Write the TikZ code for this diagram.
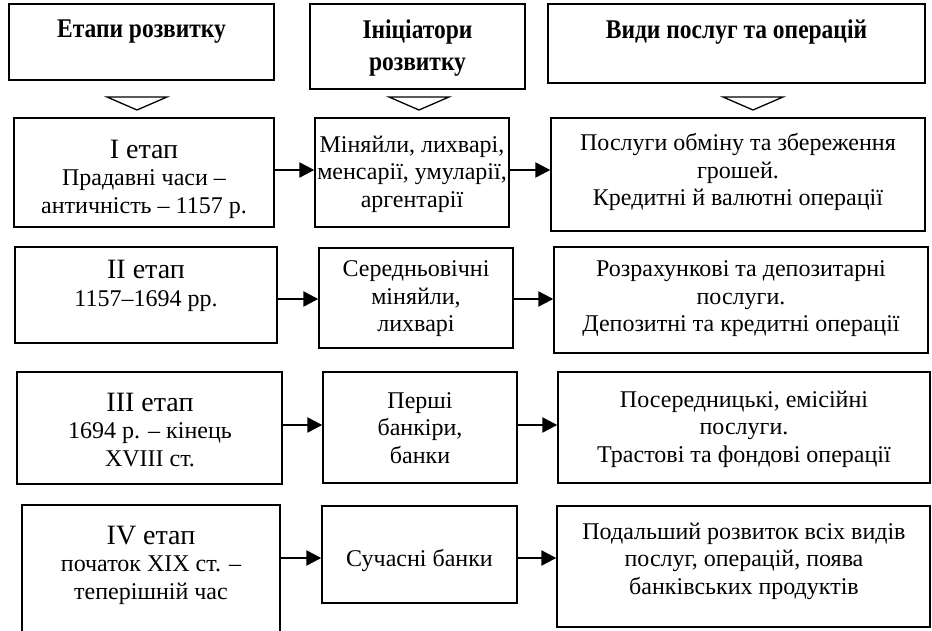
\documentclass[tikz,border=0pt]{standalone}
\usepackage{fontspec}
\setmainfont{Liberation Serif}
\usetikzlibrary{arrows.meta}
\begin{document}
\begin{tikzpicture}[x=1pt,y=-1pt,
  box/.style={draw, line width=1.4pt, inner sep=0pt},
  txt/.style={align=center, font=\fontsize{24}{27.5}\selectfont, inner sep=0pt},
  head/.style={align=center, font=\fontsize{27}{32}\selectfont\bfseries\addfontfeatures{FakeStretch=0.87}, inner sep=0pt},
  arr/.style={line width=2.4pt, -{Triangle[length=15pt,width=15pt]}},
  tri/.style={draw, line width=1.3pt, line join=miter}]
\clip (0,0) rectangle (932,631);

% column headers
\node[box, minimum width=265pt, minimum height=76pt] (h1) at (141.5,42) {};
\node[box, minimum width=215pt, minimum height=85pt] (h2) at (417.5,46.5) {};
\node[box, minimum width=377pt, minimum height=79pt] (h3) at (736.5,43.5) {};
\node[head] (th1) at (141.5,32) {Етапи розвитку};
\node[head] (th2) at (417.5,48) {Ініціатори\\розвитку};
\node[head] (th3) at (736.5,32) {Види послуг та операцій};

% open triangles under the headers
\draw[tri] (107,97) -- (167,97) -- (137,110) -- cycle;
\draw[tri] (389,97) -- (449,97) -- (419,110) -- cycle;
\draw[tri] (723,97) -- (783,97) -- (753,110) -- cycle;

% row 1
\node[box, minimum width=260pt, minimum height=109pt] (r1c1) at (144,172.5) {};
\node[box, minimum width=194pt, minimum height=109pt] (r1c2) at (412,172.5) {};
\node[box, minimum width=374pt, minimum height=113pt] (r1c3) at (738,174.5) {};
\node[txt] (t11) at (144,179) {{\fontsize{28}{30}\selectfont I етап}\\Прадавні часи –\\античність – 1157 р.};
\node[txt] (t12) at (412,174) {Міняйли, лихварі,\\менсарії, умуларії,\\аргентарії};
\node[txt] (t13) at (738,172) {Послуги обміну та збереження\\грошей.\\Кредитні й валютні операції};

% row 2
\node[box, minimum width=262pt, minimum height=96pt] (r2c1) at (146,295) {};
\node[box, minimum width=194pt, minimum height=100pt] (r2c2) at (416,298) {};
\node[box, minimum width=374pt, minimum height=106pt] (r2c3) at (741,300) {};
\node[txt] (t21) at (146,286) {{\fontsize{28}{30}\selectfont II етап}\\1157–1694 рр.};
\node[txt] (t22) at (416,299) {Середньовічні\\міняйли,\\лихварі};
\node[txt] (t23) at (741,299) {Розрахункові та депозитарні\\послуги.\\Депозитні та кредитні операції};

% row 3
\node[box, minimum width=265pt, minimum height=112pt] (r3c1) at (149.5,428) {};
\node[box, minimum width=194pt, minimum height=111pt] (r3c2) at (420,427.5) {};
\node[box, minimum width=372pt, minimum height=111pt] (r3c3) at (744,427.5) {};
\node[txt] (t31) at (150,430) {{\fontsize{28}{30}\selectfont III етап}\\1694 р. – кінець\\XVIII ст.};
\node[txt] (t32) at (420,428) {Перші\\банкіри,\\банки};
\node[txt] (t33) at (744,429) {Посередницькі, емісійні\\послуги.\\Трастові та фондові операції};

% row 4
\node[box, minimum width=258pt, minimum height=140pt] (r4c1) at (151,575) {};
\node[box, minimum width=195pt, minimum height=97pt] (r4c2) at (419.5,554.5) {};
\node[box, minimum width=373pt, minimum height=121pt] (r4c3) at (743.5,566.5) {};
\node[txt] (t41) at (151,565) {{\fontsize{28}{30}\selectfont IV етап}\\початок XIX ст. –\\теперішній час};
\node[txt] (t42) at (419.5,560) {Сучасні банки};
\node[txt] (t43) at (744,561) {Подальший розвиток всіх видів\\послуг, операцій, поява\\банківських продуктів};

% connectors
\draw[arr] ([yshift=2.5pt]r1c1.east) -- ([yshift=2.5pt]r1c1.east -| r1c2.west);
\draw[arr] ([yshift=2.5pt]r1c2.east) -- ([yshift=2.5pt]r1c2.east -| r1c3.west);
\draw[arr] ([yshift=-4pt]r2c1.east) -- ([yshift=-4pt]r2c1.east -| r2c2.west);
\draw[arr] ([yshift=-1pt]r2c2.east) -- ([yshift=-1pt]r2c2.east -| r2c3.west);
\draw[arr] ([yshift=3pt]r3c1.east) -- ([yshift=3pt]r3c1.east -| r3c2.west);
\draw[arr] ([yshift=2.5pt]r3c2.east) -- ([yshift=2.5pt]r3c2.east -| r3c3.west);
\draw[arr] (r4c1.east |- r4c2.west) ++(0,3.5) -- ([yshift=-3.5pt]r4c2.west);
\draw[arr] ([yshift=-3.5pt]r4c2.east) -- ([yshift=-3.5pt]r4c2.east -| r4c3.west);
\end{tikzpicture}
\end{document}
